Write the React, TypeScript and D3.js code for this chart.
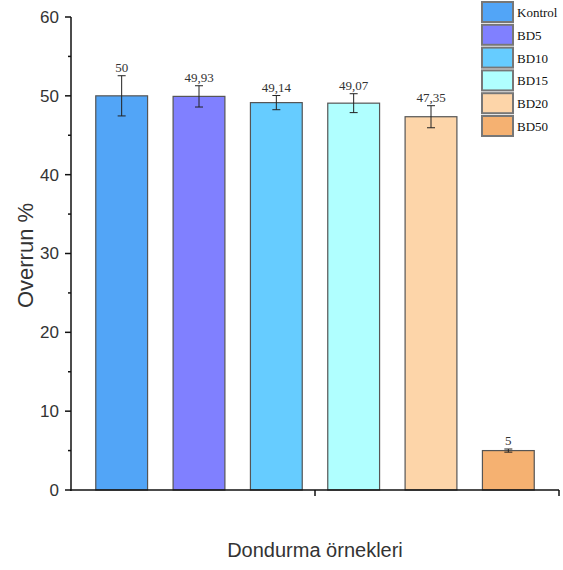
import React from "react";
import * as d3 from "d3";

const samples = ["Kontrol", "BD5", "BD10", "BD15", "BD20", "BD50"];
const overrun = [50, 49.93, 49.14, 49.07, 47.35, 5];
const errors = [2.55, 1.35, 0.9, 1.2, 1.4, 0.2];
const valueLabels = ["50", "49,93", "49,14", "49,07", "47,35", "5"];
const colors = ["#52a5f7", "#8080ff", "#66ccff", "#b0ffff", "#fdd5a9", "#f5b171"];
const yTicks = [0, 10, 20, 30, 40, 50, 60];
const yMinorTicks = [5, 15, 25, 35, 45, 55];

export default function App() {
  const width = 563;
  const height = 570;
  const axisLeft = 71;
  const axisRight = 559;

  const x = d3.scaleBand().domain(samples).range([83, 547]).paddingInner(0.33).paddingOuter(0.165);
  const y = d3.scaleLinear().domain([0, 60]).range([490, 17]);

  return (
    <svg width={width} height={height} style={{ position: "absolute", left: 0, top: 0 }}>
      {/* bars */}
      {samples.map((s, i) => (
        <rect key={s} x={x(s)} y={y(overrun[i])} width={x.bandwidth()} height={y(0) - y(overrun[i])}
          fill={colors[i]} stroke="#555" strokeWidth={1.2} />
      ))}
      {/* error bars + labels */}
      {samples.map((s, i) => {
        const cx = (x(s) as number) + x.bandwidth() / 2;
        const top = y(overrun[i] + errors[i]);
        const bot = y(overrun[i] - errors[i]);
        return (
          <g key={s}>
            <line x1={cx} x2={cx} y1={top} y2={bot} stroke="#222" strokeWidth={1} />
            <line x1={cx - 4} x2={cx + 4} y1={top} y2={top} stroke="#222" strokeWidth={1} />
            <line x1={cx - 4} x2={cx + 4} y1={bot} y2={bot} stroke="#222" strokeWidth={1} />
            <text x={cx} y={top - 4} textAnchor="middle" fontFamily="Liberation Serif" fontSize={13} fill="#333">
              {valueLabels[i]}
            </text>
          </g>
        );
      })}
      {/* y axis */}
      <line x1={axisLeft} x2={axisLeft} y1={y(60)} y2={y(0) + 1} stroke="#111" strokeWidth={1.5} />
      {yTicks.map((t) => (
        <g key={t}>
          <line x1={axisLeft - 6} x2={axisLeft} y1={y(t)} y2={y(t)} stroke="#111" strokeWidth={1.5} />
          <text x={axisLeft - 12} y={y(t)} dy="0.35em" textAnchor="end" fontFamily="Liberation Sans" fontSize={17} fill="#333">
            {t}
          </text>
        </g>
      ))}
      {yMinorTicks.map((t) => (
        <line key={t} x1={axisLeft - 3} x2={axisLeft} y1={y(t)} y2={y(t)} stroke="#111" strokeWidth={1.5} />
      ))}
      {/* x axis */}
      <line x1={axisLeft - 1} x2={axisRight} y1={y(0)} y2={y(0)} stroke="#111" strokeWidth={1.5} />
      <line x1={(83 + 547) / 2} x2={(83 + 547) / 2} y1={y(0)} y2={y(0) + 6} stroke="#111" strokeWidth={1.5} />
      <line x1={axisRight} x2={axisRight} y1={y(0)} y2={y(0) + 6} stroke="#111" strokeWidth={1.5} />
      {/* axis titles */}
      <text transform={`translate(33,${(y(0) + y(60)) / 2 + 2}) rotate(-90)`} textAnchor="middle" fontFamily="Liberation Sans" fontSize={22} fill="#333">
        Overrun %
      </text>
      <text x={315} y={557} textAnchor="middle" fontFamily="Liberation Sans" fontSize={20} fill="#333">
        Dondurma örnekleri
      </text>
      {/* legend */}
      {samples.map((s, i) => (
        <g key={s} transform={`translate(482,${2 + i * 22.8})`}>
          <rect width={31} height={20} fill={colors[i]} stroke="#777" strokeWidth={2} />
          <text x={35} y={15} fontFamily="Liberation Serif" fontSize={13} fill="#111">{s}</text>
        </g>
      ))}
    </svg>
  );
}
